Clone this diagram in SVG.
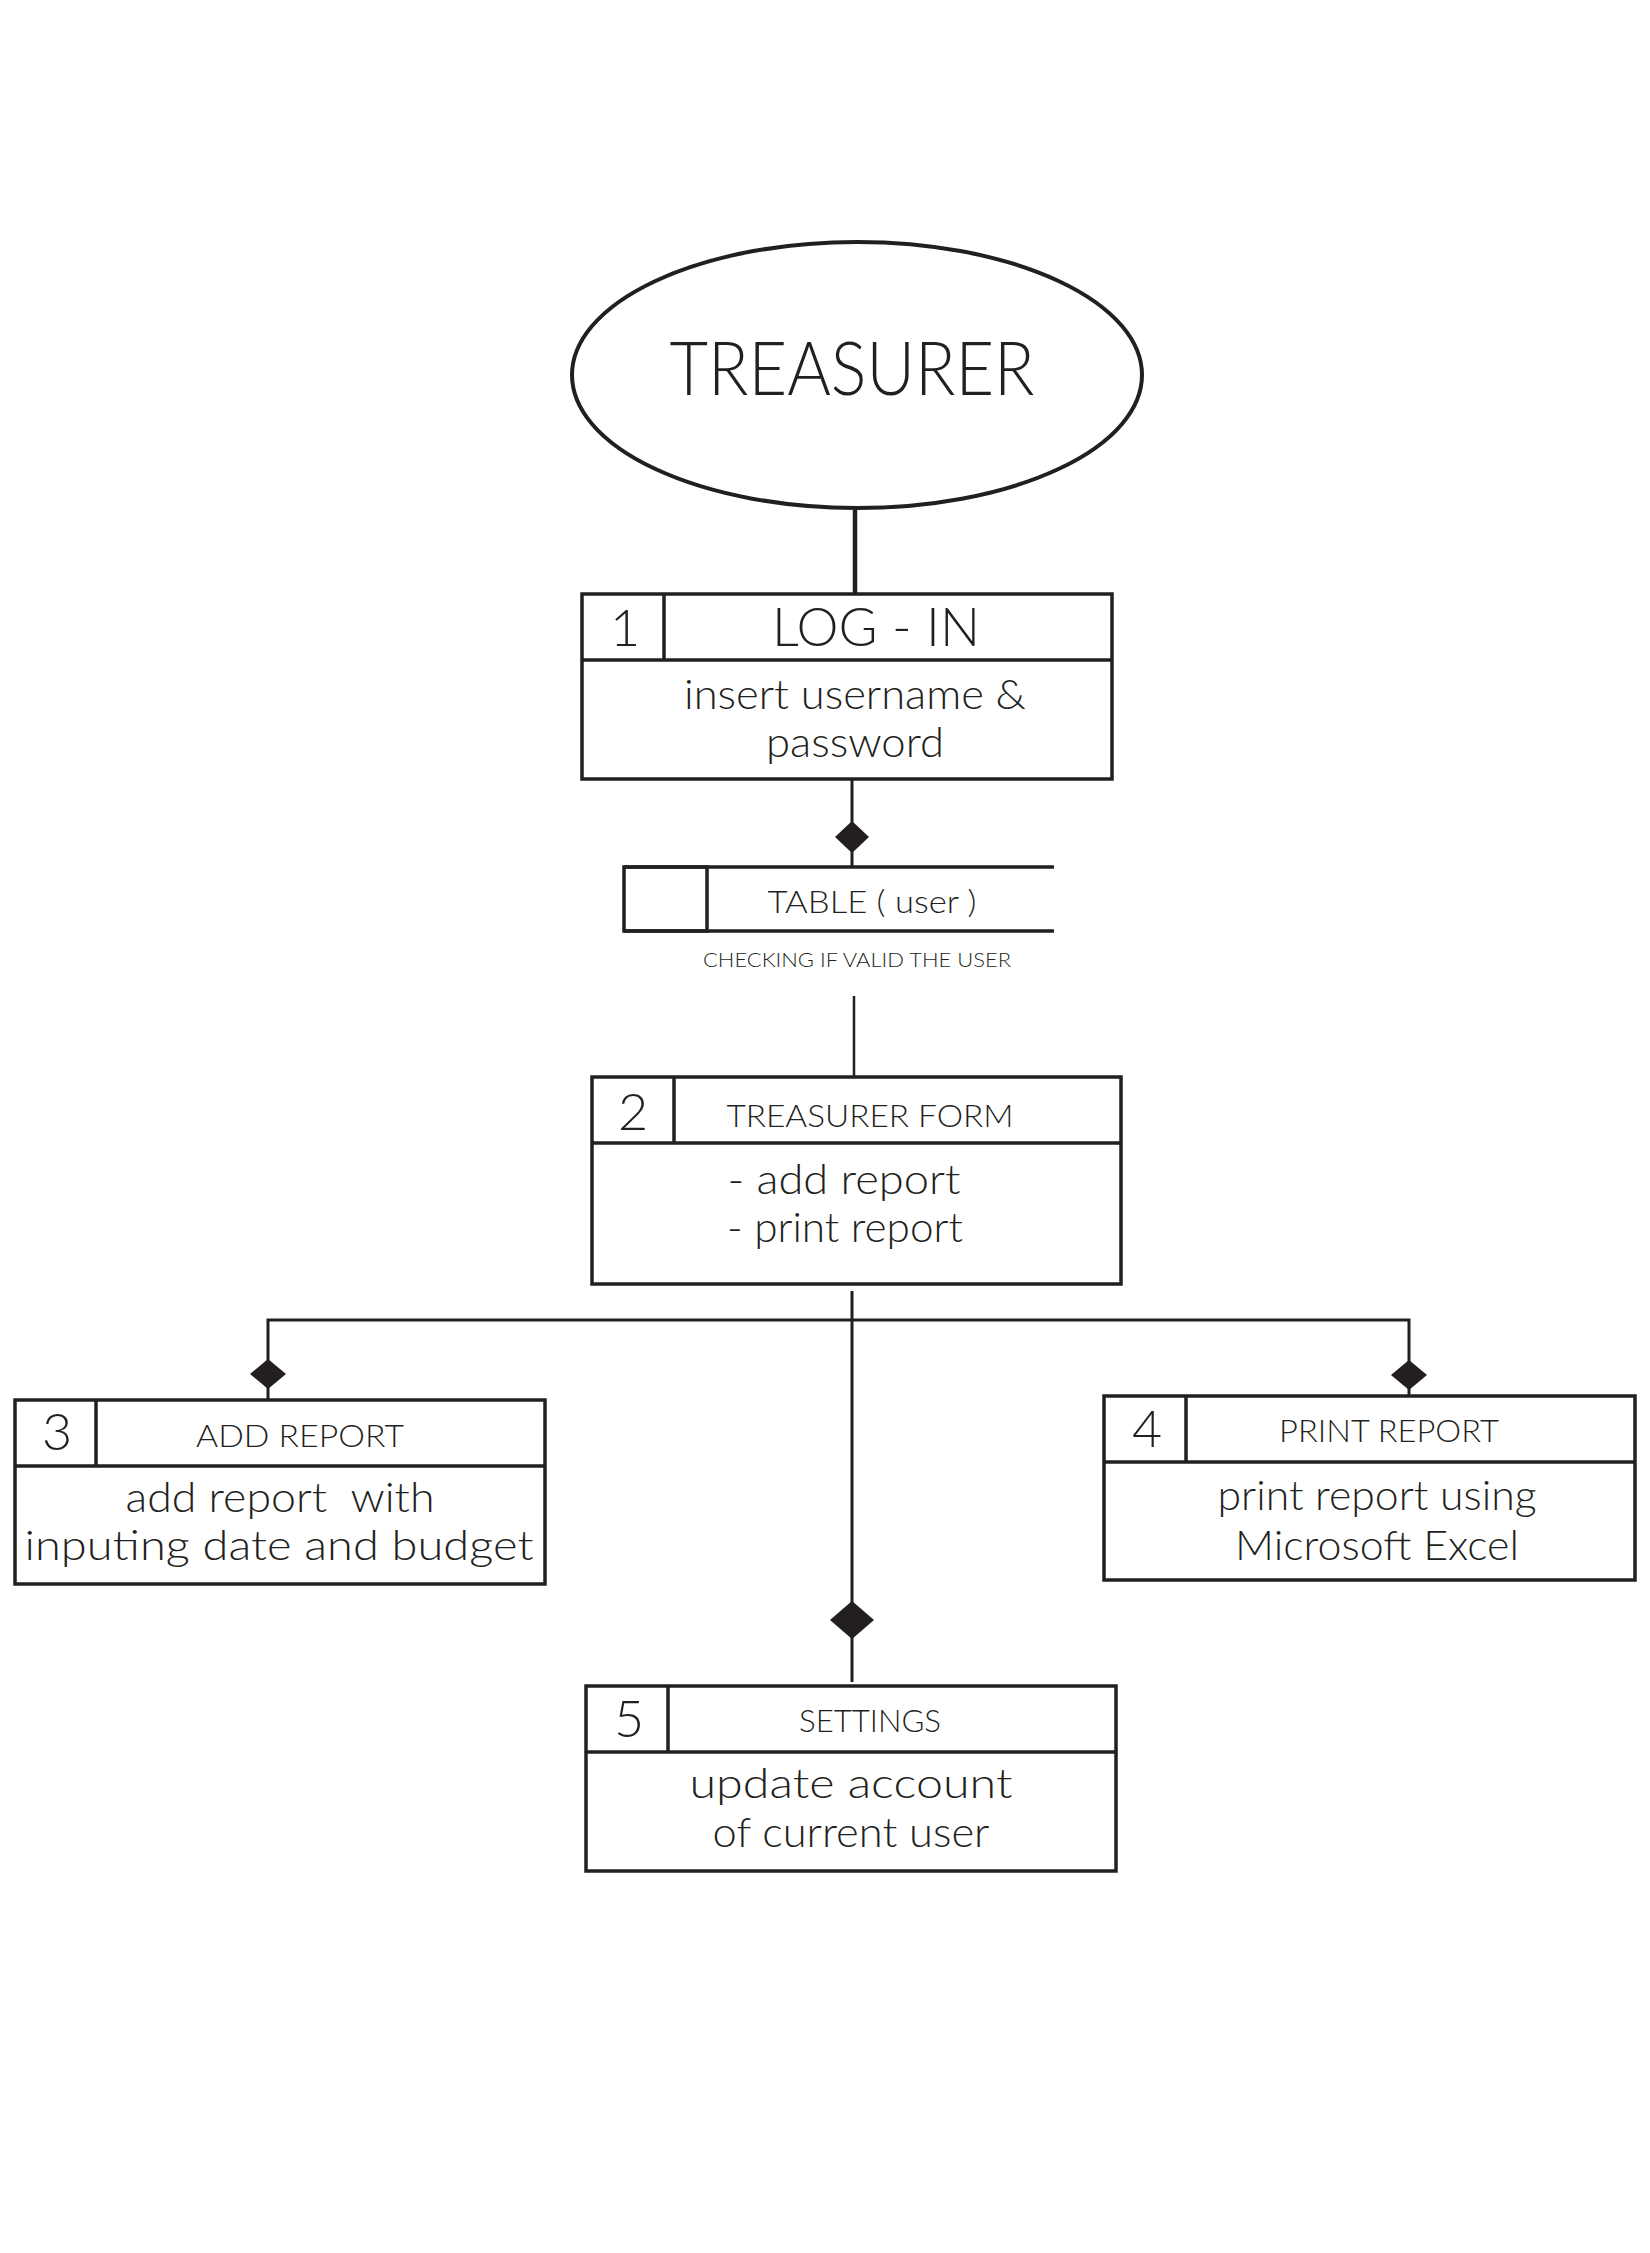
<svg xmlns="http://www.w3.org/2000/svg" width="1650" height="2253" viewBox="0 0 1650 2253">
<style>
.bg{fill:#fff}
.box{fill:#fff;stroke:#231f20;stroke-width:3.5}
.div{stroke:#231f20;stroke-width:3.5;fill:none}
.ln{stroke:#231f20;stroke-width:3;fill:none}
.dia{fill:#231f20;stroke:none}
text{font-family:Lato,"Liberation Sans",sans-serif;font-weight:300;fill:#231f20;text-anchor:middle;white-space:pre}
.num{font-size:52px}
.hd{font-size:32px}
.bd{font-size:42px}
</style>
<rect class="bg" x="0" y="0" width="1650" height="2253"/>
<g id="connectors">
<line class="ln" x1="855" y1="510" x2="855" y2="594" style="stroke-width:4.5"/>
<line class="ln" x1="852" y1="779" x2="852" y2="867"/>
<polygon class="dia" points="852,821 869,837 852,853 835,837"/>
<line class="ln" x1="854" y1="996" x2="854" y2="1077" style="stroke-width:2.5"/>
<line class="ln" x1="852" y1="1291" x2="852" y2="1682"/>
<polygon class="dia" points="852,1601 874,1620 852,1639 830,1620"/>
<polyline class="ln" points="268,1400 268,1320 1409,1320 1409,1396"/>
<polygon class="dia" points="268,1359 286,1374 268,1389 250,1374"/>
<polygon class="dia" points="1409,1360 1427,1375 1409,1390 1391,1375"/>
</g>
<g id="treasurer">
<ellipse cx="857" cy="375" rx="285" ry="133" fill="#fff" stroke="#231f20" stroke-width="4"/>
<text x="852" y="395" style="font-size:74px" textLength="365" lengthAdjust="spacingAndGlyphs">TREASURER</text>
</g>
<g id="login">
<rect class="box" x="582" y="594" width="530" height="185"/>
<line class="div" x1="582" y1="660" x2="1112" y2="660"/>
<line class="div" x1="664" y1="594" x2="664" y2="660"/>
<text class="num" x="625" y="646">1</text>
<text x="876" y="646" style="font-size:54px" textLength="208" lengthAdjust="spacingAndGlyphs">LOG - IN</text>
<text class="bd" x="855" y="709" textLength="342" lengthAdjust="spacingAndGlyphs">insert username &amp;</text>
<text class="bd" x="855" y="757" textLength="178" lengthAdjust="spacingAndGlyphs">password</text>
</g>
<g id="table-user">
<rect class="box" x="624" y="867" width="83" height="64"/>
<line class="div" x1="624" y1="867" x2="1054" y2="867"/>
<line class="div" x1="624" y1="931" x2="1054" y2="931"/>
<text class="hd" x="872" y="913" textLength="209" lengthAdjust="spacingAndGlyphs">TABLE ( user )</text>
<text x="857" y="967" style="font-size:20px" textLength="308" lengthAdjust="spacingAndGlyphs">CHECKING IF VALID THE USER</text>
</g>
<g id="treasurer-form">
<rect class="box" x="592" y="1077" width="529" height="207"/>
<line class="div" x1="592" y1="1143" x2="1121" y2="1143"/>
<line class="div" x1="674" y1="1077" x2="674" y2="1143"/>
<text class="num" x="633" y="1130">2</text>
<text class="hd" x="870" y="1127" textLength="287" lengthAdjust="spacingAndGlyphs">TREASURER FORM</text>
<text class="bd" x="844" y="1194" textLength="233" lengthAdjust="spacingAndGlyphs">- add report</text>
<text class="bd" x="845" y="1242" textLength="236" lengthAdjust="spacingAndGlyphs">- print report</text>
</g>
<g id="add-report">
<rect class="box" x="15" y="1400" width="530" height="184"/>
<line class="div" x1="15" y1="1466" x2="545" y2="1466"/>
<line class="div" x1="96" y1="1400" x2="96" y2="1466"/>
<text class="num" x="57" y="1450">3</text>
<text class="hd" x="300" y="1447" textLength="208" lengthAdjust="spacingAndGlyphs">ADD REPORT</text>
<text class="bd" x="280" y="1512" textLength="309" lengthAdjust="spacingAndGlyphs">add report  with</text>
<text class="bd" x="279" y="1560" textLength="509" lengthAdjust="spacingAndGlyphs">inputing date and budget</text>
</g>
<g id="print-report">
<rect class="box" x="1104" y="1396" width="531" height="184"/>
<line class="div" x1="1104" y1="1462" x2="1635" y2="1462"/>
<line class="div" x1="1186" y1="1396" x2="1186" y2="1462"/>
<text class="num" x="1147" y="1447">4</text>
<text class="hd" x="1389" y="1442" textLength="220" lengthAdjust="spacingAndGlyphs">PRINT REPORT</text>
<text class="bd" x="1377" y="1510" textLength="319" lengthAdjust="spacingAndGlyphs">print report using</text>
<text class="bd" x="1377" y="1560" textLength="284" lengthAdjust="spacingAndGlyphs">Microsoft Excel</text>
</g>
<g id="settings">
<rect class="box" x="586" y="1686" width="530" height="185"/>
<line class="div" x1="586" y1="1752" x2="1116" y2="1752"/>
<line class="div" x1="668" y1="1686" x2="668" y2="1752"/>
<text class="num" x="629" y="1737">5</text>
<text class="hd" x="870" y="1732" textLength="142" lengthAdjust="spacingAndGlyphs">SETTINGS</text>
<text class="bd" x="851" y="1798" textLength="323" lengthAdjust="spacingAndGlyphs">update account</text>
<text class="bd" x="851" y="1847" textLength="277" lengthAdjust="spacingAndGlyphs">of current user</text>
</g>
</svg>
